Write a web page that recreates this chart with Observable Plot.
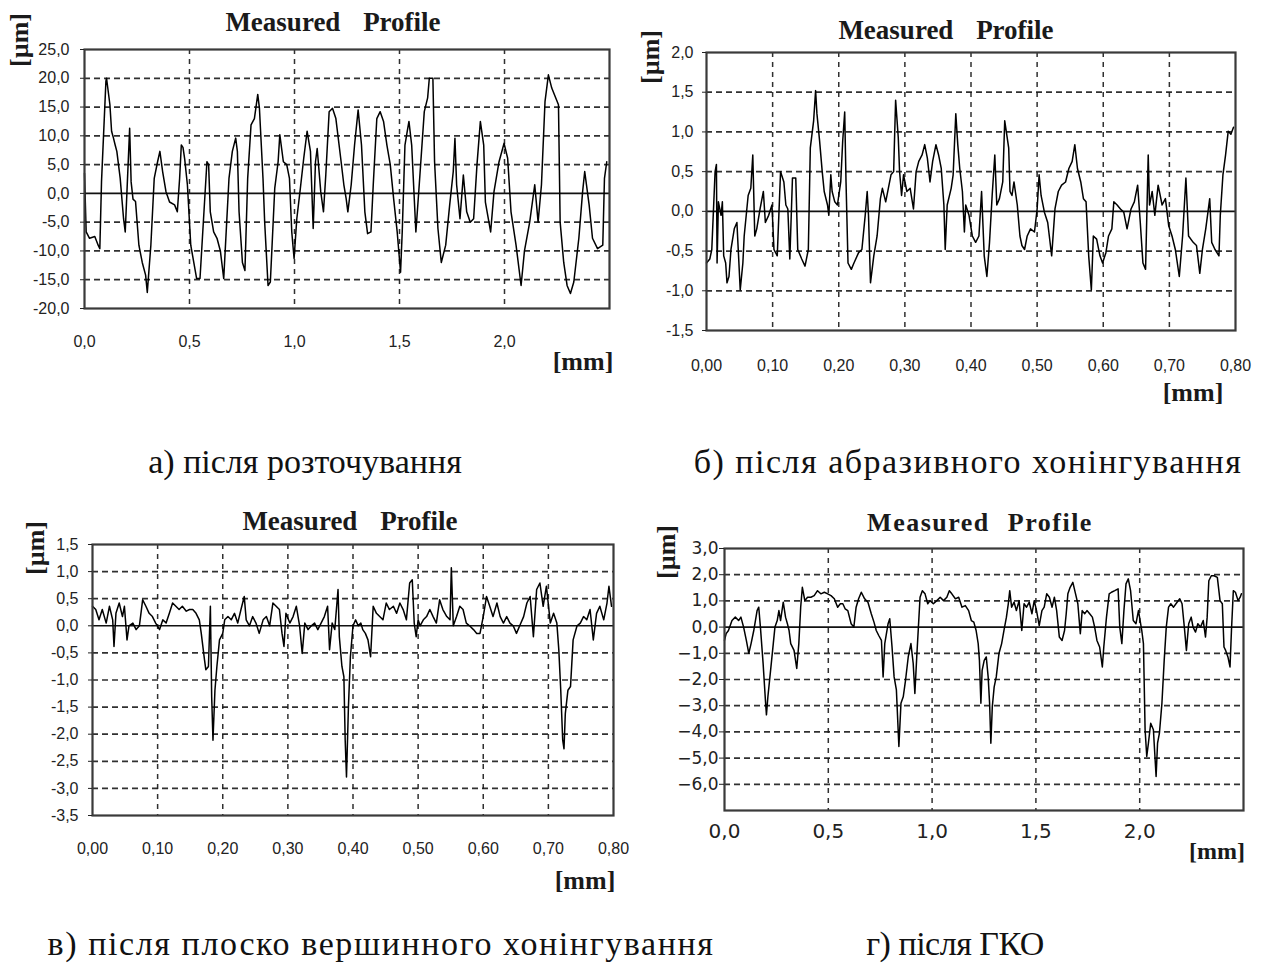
<!DOCTYPE html>
<html>
<head>
<meta charset="utf-8">
<script src="https://cdn.jsdelivr.net/npm/d3@7"></script>
<script src="https://cdn.jsdelivr.net/npm/@observablehq/plot@0.6"></script>
<style>
  body { margin: 0; background: #fff; }
  #page { position: relative; width: 1262px; height: 965px; overflow: hidden; background: #fff; }
  .t { position: absolute; white-space: nowrap; color: #1a1a1a; }
  .title { font-family: "Liberation Serif", "Times New Roman", serif; font-weight: bold; font-size: 27px; word-spacing: 16px; }
  .unit { font-family: "Liberation Serif", "Times New Roman", serif; font-weight: bold; font-size: 26px; }
  .cap { font-family: "Liberation Serif", "Times New Roman", serif; font-size: 34px; color: #111; }
</style>
</head>
<body>
<div id="page"></div>
<script>
// Measured surface profiles: [position, mm ; height, µm]

// а) after boring
const profileA = [
  [0, 3.5], [0.008, -6.7], [0.024, -7.8], [0.049, -7.5], [0.065, -9.0], [0.073, -9.6], [0.081, 2.0],
  [0.102, 19.5], [0.105, 20.0], [0.121, 15.4], [0.129, 10.8], [0.138, 9.6], [0.146, 8.4], [0.154, 7.3],
  [0.170, 2.6], [0.186, -4.4], [0.194, -6.7], [0.215, 11.3], [0.222, 2.0], [0.231, -1.0], [0.243, -1.4],
  [0.259, -9.0], [0.275, -12.0], [0.291, -14.2], [0.299, -17.2], [0.316, -9.0], [0.332, 2.6], [0.348, 5.5],
  [0.359, 7.3], [0.372, 3.8], [0.388, 0.3], [0.405, -1.5], [0.429, -2.0], [0.442, -3.2], [0.453, 2.6],
  [0.461, 8.4], [0.469, 8.0], [0.477, 6.0], [0.490, 1.5], [0.506, -9.0], [0.534, -14.8], [0.550, -14.8],
  [0.583, 5.5], [0.591, 5.0], [0.599, -3.2], [0.615, -6.7], [0.631, -7.8], [0.647, -10.0], [0.663, -14.8],
  [0.688, 2.6], [0.704, 7.3], [0.720, 9.6], [0.728, 7.3], [0.736, -3.2], [0.752, -12.0], [0.764, -13.4],
  [0.777, 2.6], [0.793, 11.9], [0.809, 13.0], [0.825, 17.2], [0.833, 14.8], [0.850, 2.6], [0.858, -5.0],
  [0.874, -16.0], [0.885, -15.4], [0.906, 0.9], [0.922, 5.5], [0.930, 10.2], [0.947, 5.5], [0.963, 5.0],
  [0.976, 2.6], [0.987, -6.7], [0.998, -11.3], [1.011, -4.4], [1.028, 0.9], [1.044, 6.1], [1.060, 10.8],
  [1.076, 7.3], [1.089, -6.1], [1.100, 5.5], [1.108, 7.8], [1.125, 0.3], [1.138, -3.2], [1.149, 3.2],
  [1.165, 14.2], [1.181, 14.8], [1.197, 13.0], [1.222, 5.5], [1.235, 1.5], [1.246, -0.9], [1.254, -3.2],
  [1.270, 1.5], [1.286, 8.4], [1.303, 14.5], [1.319, 8.4], [1.335, -3.2], [1.348, -7.0], [1.364, -6.7],
  [1.375, 1.5], [1.392, 13.0], [1.408, 14.2], [1.424, 12.5], [1.440, 8.4], [1.456, 5.0], [1.472, -0.9],
  [1.489, -6.7], [1.505, -13.7], [1.513, -6.7], [1.526, 8.4], [1.537, 10.8], [1.545, 12.5], [1.558, 8.4],
  [1.578, -6.7], [1.594, 1.5], [1.618, 14.2], [1.634, 16.6], [1.642, 20.0], [1.659, 20.0], [1.667, 5.5],
  [1.683, -6.1], [1.699, -12.0], [1.720, -9.0], [1.739, -2.0], [1.756, 3.8], [1.764, 9.6], [1.772, 1.5],
  [1.788, -4.4], [1.804, 3.2], [1.820, -3.2], [1.837, -5.0], [1.853, -4.4], [1.869, 5.0], [1.885, 12.5],
  [1.901, 8.4], [1.909, -1.5], [1.934, -6.7], [1.950, 0.3], [1.974, 5.5], [1.998, 8.7], [2.015, 6.1],
  [2.031, -3.2], [2.055, -9.0], [2.079, -16.0], [2.095, -10.0], [2.120, -5.0], [2.144, 1.5], [2.160, -5.0],
  [2.176, 1.5], [2.193, 16.0], [2.209, 20.6], [2.225, 18.3], [2.257, 15.4], [2.265, -5.0], [2.282, -12.0],
  [2.298, -16.0], [2.314, -17.4], [2.330, -15.4], [2.354, -7.8], [2.372, 0.3], [2.382, 3.8], [2.403, -2.0],
  [2.419, -7.8], [2.443, -9.6], [2.468, -9.0], [2.476, 2.6], [2.487, 5.5]
];

// б) after abrasive honing
const profileB = [
  [0.000, -0.65], [0.005, -0.60], [0.008, -0.48], [0.013, 0.50], [0.015, 0.59], [0.016, -0.65], [0.018, 0.12],
  [0.022, -0.05], [0.024, 0.12], [0.026, -0.56], [0.029, -0.65], [0.031, -0.90], [0.034, -0.82], [0.037, -0.48],
  [0.042, -0.22], [0.046, -0.14], [0.048, -0.48], [0.051, -0.99], [0.055, -0.65], [0.057, -0.31], [0.063, 0.20],
  [0.067, 0.29], [0.070, 0.71], [0.073, -0.31], [0.076, -0.22], [0.081, 0.03], [0.086, 0.25], [0.089, -0.14],
  [0.094, -0.05], [0.099, 0.08], [0.102, -0.48], [0.107, -0.56], [0.112, 0.50], [0.117, 0.37], [0.120, 0.08],
  [0.123, 0.03], [0.126, -0.60], [0.130, 0.42], [0.135, 0.42], [0.138, -0.48], [0.144, -0.60], [0.149, -0.69],
  [0.154, -0.48], [0.157, 0.80], [0.162, 1.14], [0.165, 1.52], [0.167, 1.23], [0.171, 0.89], [0.175, 0.50],
  [0.178, 0.25], [0.183, 0.08], [0.185, -0.05], [0.188, 0.46], [0.190, 0.25], [0.194, 0.12], [0.198, 0.08],
  [0.203, 0.37], [0.206, 0.89], [0.209, 1.25], [0.211, 0.37], [0.214, -0.65], [0.219, -0.73], [0.223, -0.65],
  [0.230, -0.52], [0.235, -0.48], [0.240, -0.05], [0.243, 0.25], [0.245, -0.05], [0.248, -0.90], [0.253, -0.56],
  [0.258, -0.31], [0.263, 0.16], [0.266, 0.29], [0.271, 0.12], [0.275, 0.29], [0.279, 0.46], [0.283, 0.50],
  [0.286, 1.40], [0.290, 0.93], [0.292, 0.50], [0.295, 0.20], [0.298, 0.46], [0.303, 0.25], [0.308, 0.29],
  [0.313, 0.03], [0.317, 0.50], [0.321, 0.63], [0.326, 0.71], [0.330, 0.84], [0.334, 0.67], [0.338, 0.37],
  [0.342, 0.63], [0.347, 0.84], [0.351, 0.71], [0.355, 0.54], [0.359, 0.08], [0.361, -0.48], [0.364, 0.08],
  [0.370, 0.29], [0.373, 0.46], [0.377, 1.23], [0.380, 0.84], [0.383, 0.54], [0.387, 0.25], [0.390, -0.26],
  [0.392, 0.08], [0.397, -0.05], [0.402, -0.31], [0.407, -0.39], [0.412, -0.31], [0.416, 0.25], [0.420, -0.56],
  [0.424, -0.82], [0.428, -0.39], [0.432, 0.20], [0.436, 0.71], [0.439, 0.08], [0.443, 0.16], [0.448, 0.37],
  [0.451, 1.14], [0.454, 0.97], [0.457, 0.80], [0.459, 0.25], [0.462, 0.20], [0.465, 0.37], [0.470, 0.08],
  [0.474, -0.31], [0.477, -0.43], [0.481, -0.48], [0.485, -0.31], [0.490, -0.22], [0.496, -0.26], [0.500, 0.03],
  [0.503, 0.46], [0.506, 0.20], [0.511, -0.01], [0.516, -0.14], [0.522, -0.56], [0.527, 0.03], [0.532, 0.25],
  [0.537, 0.33], [0.543, 0.37], [0.548, 0.54], [0.553, 0.63], [0.557, 0.84], [0.561, 0.54], [0.566, 0.37],
  [0.570, 0.16], [0.574, 0.12], [0.578, -0.56], [0.582, -0.99], [0.585, -0.31], [0.590, -0.35], [0.595, -0.56],
  [0.599, -0.65], [0.604, -0.52], [0.608, -0.31], [0.613, -0.22], [0.616, 0.12], [0.621, 0.08], [0.626, 0.03],
  [0.631, -0.01], [0.636, -0.22], [0.642, 0.03], [0.647, 0.12], [0.652, 0.33], [0.656, -0.14], [0.660, -0.65],
  [0.664, -0.73], [0.668, 0.71], [0.670, 0.08], [0.674, 0.25], [0.678, -0.05], [0.683, 0.33], [0.689, 0.08],
  [0.694, 0.16], [0.699, -0.18], [0.704, -0.31], [0.709, -0.48], [0.715, -0.82], [0.720, -0.31], [0.725, 0.42],
  [0.729, -0.31], [0.736, -0.39], [0.741, -0.43], [0.746, -0.78], [0.750, -0.48], [0.755, -0.22], [0.761, 0.16],
  [0.764, -0.39], [0.769, -0.48], [0.775, -0.56], [0.777, -0.05], [0.781, 0.46], [0.785, 0.71], [0.789, 1.01],
  [0.793, 0.97], [0.797, 1.06]
];

// в) after plateau honing
const profileC = [
  [0.000, 0.36], [0.005, 0.30], [0.010, 0.11], [0.015, 0.30], [0.021, 0.05], [0.026, 0.36], [0.031, 0.11],
  [0.033, -0.38], [0.036, 0.23], [0.041, 0.42], [0.046, 0.17], [0.049, 0.36], [0.053, -0.26], [0.056, 0.00],
  [0.062, 0.05], [0.067, -0.07], [0.072, 0.00], [0.077, 0.48], [0.082, 0.36], [0.087, 0.23], [0.092, 0.17],
  [0.097, 0.05], [0.103, -0.07], [0.108, 0.11], [0.113, 0.05], [0.118, 0.23], [0.123, 0.42], [0.128, 0.36],
  [0.133, 0.30], [0.138, 0.36], [0.144, 0.27], [0.149, 0.30], [0.154, 0.30], [0.159, 0.23], [0.164, 0.11],
  [0.167, -0.14], [0.172, -0.63], [0.174, -0.81], [0.178, -0.75], [0.181, 0.36], [0.183, -1.31], [0.185, -2.11],
  [0.188, -1.19], [0.191, -0.75], [0.195, -0.26], [0.200, -0.14], [0.203, 0.11], [0.208, 0.17], [0.213, 0.11],
  [0.218, 0.23], [0.223, 0.05], [0.228, 0.30], [0.233, 0.54], [0.236, 0.11], [0.241, 0.00], [0.246, 0.17],
  [0.251, 0.05], [0.256, -0.14], [0.262, 0.11], [0.267, 0.17], [0.272, 0.00], [0.277, 0.42], [0.282, 0.36],
  [0.287, 0.30], [0.291, -0.14], [0.294, -0.38], [0.297, 0.23], [0.303, 0.05], [0.308, 0.17], [0.313, 0.36],
  [0.318, 0.00], [0.322, -0.51], [0.326, 0.05], [0.331, -0.07], [0.336, 0.00], [0.341, 0.05], [0.346, -0.07],
  [0.351, 0.05], [0.356, 0.17], [0.361, 0.36], [0.364, -0.44], [0.368, 0.05], [0.372, -0.07], [0.377, 0.67],
  [0.379, -0.20], [0.383, -0.75], [0.386, -0.94], [0.388, -2.11], [0.390, -2.79], [0.393, -1.49], [0.396, -0.57],
  [0.400, 0.00], [0.404, 0.11], [0.408, 0.00], [0.412, 0.05], [0.415, -0.07], [0.419, -0.14], [0.423, -0.26],
  [0.427, -0.57], [0.431, 0.36], [0.436, 0.23], [0.441, 0.17], [0.446, 0.11], [0.451, 0.42], [0.456, 0.30],
  [0.462, 0.36], [0.467, 0.23], [0.472, 0.42], [0.477, 0.30], [0.482, 0.11], [0.487, 0.79], [0.491, 0.85],
  [0.494, 0.05], [0.497, -0.20], [0.500, 0.11], [0.503, 0.00], [0.508, 0.11], [0.513, 0.17], [0.518, 0.30],
  [0.523, 0.17], [0.528, 0.05], [0.533, 0.48], [0.538, 0.30], [0.544, 0.17], [0.549, 0.11], [0.551, 1.07],
  [0.554, 0.00], [0.559, 0.17], [0.564, 0.36], [0.569, 0.30], [0.574, 0.05], [0.579, 0.00], [0.585, -0.07],
  [0.590, -0.14], [0.595, -0.14], [0.600, 0.17], [0.605, 0.54], [0.610, 0.36], [0.615, 0.17], [0.621, 0.42],
  [0.626, 0.17], [0.631, 0.05], [0.636, 0.17], [0.641, 0.05], [0.646, 0.00], [0.651, -0.14], [0.656, 0.00],
  [0.662, 0.17], [0.667, 0.42], [0.672, 0.54], [0.677, -0.20], [0.682, 0.67], [0.687, 0.79], [0.692, 0.36],
  [0.697, 0.73], [0.703, 0.05], [0.708, 0.23], [0.713, 0.05], [0.716, -0.44], [0.719, -1.19], [0.722, -2.11],
  [0.724, -2.27], [0.726, -1.62], [0.730, -1.19], [0.734, -1.12], [0.738, -0.26], [0.744, 0.00], [0.749, 0.05],
  [0.754, 0.17], [0.759, 0.11], [0.764, 0.30], [0.769, -0.26], [0.774, 0.23], [0.779, 0.36], [0.785, 0.11],
  [0.790, 0.42], [0.793, 0.73], [0.797, 0.36]
];

// г) after HKO
const profileD = [
  [0.000, -0.50], [0.008, -0.25], [0.019, -0.13], [0.036, 0.25], [0.052, 0.38], [0.068, 0.25], [0.079, 0.38],
  [0.092, 0.00], [0.105, -0.50], [0.117, -1.00], [0.128, -0.63], [0.141, -0.13], [0.157, 0.63], [0.165, 0.76],
  [0.173, 0.00], [0.186, -1.39], [0.197, -2.78], [0.202, -3.35], [0.209, -2.66], [0.222, -1.65], [0.235, -0.63],
  [0.243, 0.00], [0.254, 0.25], [0.262, 0.63], [0.270, 0.25], [0.283, 0.95], [0.294, 0.38], [0.303, 0.13],
  [0.311, -0.13], [0.319, -0.63], [0.335, -0.89], [0.348, -1.58], [0.358, -0.63], [0.367, 0.76], [0.375, 1.52],
  [0.387, 1.01], [0.400, 1.14], [0.416, 1.14], [0.432, 1.20], [0.448, 1.39], [0.464, 1.27], [0.481, 1.33],
  [0.497, 1.27], [0.513, 1.20], [0.529, 1.08], [0.545, 0.76], [0.558, 0.89], [0.570, 0.89], [0.581, 0.70],
  [0.594, 0.63], [0.610, 0.13], [0.623, 0.00], [0.634, 0.76], [0.646, 1.08], [0.659, 1.33], [0.675, 1.08],
  [0.691, 0.95], [0.707, 0.51], [0.720, 0.19], [0.731, -0.13], [0.743, -0.32], [0.756, -0.51], [0.764, -1.90],
  [0.772, -0.63], [0.788, 0.13], [0.796, 0.32], [0.807, -0.76], [0.817, -1.90], [0.828, -2.40], [0.840, -4.56],
  [0.850, -2.91], [0.861, -2.66], [0.872, -2.03], [0.885, -1.14], [0.898, -0.63], [0.909, -1.39], [0.917, -2.53],
  [0.926, -1.14], [0.934, 0.00], [0.942, 1.14], [0.953, 1.39], [0.966, 1.27], [0.979, 0.89], [0.990, 1.01],
  [1.006, 0.89], [1.023, 1.01], [1.039, 1.14], [1.055, 1.01], [1.071, 1.14], [1.083, 1.39], [1.095, 1.27],
  [1.112, 1.08], [1.128, 1.14], [1.144, 0.76], [1.160, 0.82], [1.176, 0.63], [1.189, 0.25], [1.201, 0.19],
  [1.212, -0.13], [1.222, -0.63], [1.228, -1.27], [1.235, -2.91], [1.241, -1.65], [1.251, -1.27], [1.261, -1.14],
  [1.270, -1.90], [1.277, -2.91], [1.283, -4.43], [1.290, -3.04], [1.299, -2.28], [1.309, -1.90], [1.322, -1.01],
  [1.335, -0.63], [1.346, -0.13], [1.358, 0.38], [1.367, 0.89], [1.374, 1.39], [1.383, 0.76], [1.395, 0.95],
  [1.406, 0.63], [1.419, 1.01], [1.432, -0.13], [1.443, 0.89], [1.455, 0.76], [1.468, 0.95], [1.481, 0.51],
  [1.492, 1.01], [1.503, 0.63], [1.516, 0.06], [1.529, 0.63], [1.540, 0.76], [1.552, 1.27], [1.565, 1.14],
  [1.578, 0.76], [1.589, 1.14], [1.600, 0.63], [1.613, -0.38], [1.626, -0.51], [1.638, -0.13], [1.646, 0.51],
  [1.654, 1.27], [1.665, 1.52], [1.678, 1.71], [1.691, 1.27], [1.702, 0.89], [1.714, -0.25], [1.723, 0.63],
  [1.735, 0.51], [1.746, 0.63], [1.759, 0.51], [1.772, 0.38], [1.783, 0.00], [1.794, -0.51], [1.807, -0.76],
  [1.820, -1.52], [1.827, -0.76], [1.840, 0.38], [1.853, 1.27], [1.864, 1.33], [1.880, 1.39], [1.896, 1.46],
  [1.904, 0.00], [1.914, -0.63], [1.924, 0.63], [1.934, 1.65], [1.945, 1.84], [1.956, 1.39], [1.969, 0.25],
  [1.982, 0.13], [1.994, 0.63], [2.002, 0.25], [2.010, -0.13], [2.018, -0.63], [2.026, -3.92], [2.034, -4.94],
  [2.042, -4.43], [2.053, -3.67], [2.066, -3.92], [2.079, -5.70], [2.086, -4.43], [2.095, -4.05], [2.107, -2.91],
  [2.118, -1.27], [2.128, 0.00], [2.139, 0.76], [2.150, 0.89], [2.163, 0.76], [2.180, 0.95], [2.193, 1.08],
  [2.204, 0.89], [2.215, 0.00], [2.225, -0.89], [2.236, 0.13], [2.248, 0.38], [2.257, 0.00], [2.269, -0.19],
  [2.280, 0.13], [2.293, 0.00], [2.306, 0.25], [2.317, -0.38], [2.325, 0.38], [2.333, 1.77], [2.345, 1.96],
  [2.358, 1.96], [2.374, 1.90], [2.387, 1.01], [2.398, 0.89], [2.406, -0.76], [2.414, -0.89], [2.425, -1.14],
  [2.435, -1.52], [2.442, -0.13], [2.451, 1.39], [2.461, 1.33], [2.474, 1.01], [2.484, 1.14], [2.490, 1.27]
];

// Axis ticks
const yTicksA = [25, 20, 15, 10, 5, 0, -5, -10, -15, -20];
const xTicksA = [0, 0.5, 1.0, 1.5, 2.0];
const yTicksB = [2.0, 1.5, 1.0, 0.5, 0, -0.5, -1.0, -1.5];
const xTicksB = [0, 0.1, 0.2, 0.3, 0.4, 0.5, 0.6, 0.7, 0.8];
const yTicksC = [1.5, 1.0, 0.5, 0, -0.5, -1.0, -1.5, -2.0, -2.5, -3.0, -3.5];
const xTicksC = [0, 0.1, 0.2, 0.3, 0.4, 0.5, 0.6, 0.7, 0.8];
const yTicksD = [3, 2, 1, 0, -1, -2, -3, -4, -5, -6];
const xTicksD = [0, 0.5, 1.0, 1.5, 2.0];

const titleText = "Measured Profile";
const yUnit = "[µm]";
const xUnit = "[mm]";
const captions = [
  "а) після розточування",
  "б) після абразивного хонінгування",
  "в) після плоско вершинного хонінгування",
  "г) після ГКО"
];

const comma = (digits, minus = "-") => d =>
  (d < 0 ? minus : "") + Math.abs(d).toFixed(digits).replace(".", ",");

const page = document.getElementById("page");

function profilePanel(cfg) {
  const inner = (ticks, lo, hi) => ticks.filter(t => t > lo && t < hi && t !== 0);
  const [x0, x1] = cfg.xDomain, [y0, y1] = cfg.yDomain;
  const gridStyle = {stroke: "#1a1a1a", strokeOpacity: 0.9, strokeWidth: 1.7, strokeDasharray: "6,4"};
  const svg = Plot.plot({
    width: cfg.width, height: cfg.height,
    marginLeft: cfg.ml, marginRight: cfg.mr, marginTop: cfg.mt, marginBottom: cfg.mb,
    x: {domain: cfg.xDomain, axis: null},
    y: {domain: cfg.yDomain, axis: null},
    style: {background: "transparent", fontFamily: cfg.font, color: "#222", overflow: "visible"},
    marks: [
      Plot.gridY(inner(cfg.yTicks, y0, y1), gridStyle),
      Plot.gridX(inner(cfg.xTicks, x0, x1), {...gridStyle, strokeWidth: 1.5, strokeDasharray: "5,5"}),
      Plot.ruleY([0], {stroke: "#111", strokeWidth: 1.6}),
      Plot.line(cfg.data, {x: d => d[0], y: d => d[1], stroke: "#000", strokeWidth: 1.5}),
      Plot.frame({stroke: "#3a3a3a", strokeWidth: 2.2}),
      Plot.axisY(cfg.yTicks, {tickSize: cfg.yTickSize, tickPadding: cfg.yPad, tickFormat: cfg.yFormat,
        fontSize: cfg.yFont, stroke: "#222", fill: "#222"}),
      Plot.axisX(cfg.xTicks, {tickSize: 0, tickPadding: cfg.xPad, tickFormat: cfg.xFormat,
        fontSize: cfg.xFont, fill: "#222"})
    ]
  });
  const wrap = document.createElement("div");
  wrap.style.cssText = `position:absolute;left:${cfg.left}px;top:${cfg.top}px;width:${cfg.width}px;height:${cfg.height}px`;
  wrap.appendChild(svg);
  page.appendChild(wrap);
}

function addText(text, cls, x, y, extra = "", rotate = false) {
  const d = document.createElement("div");
  d.className = "t " + cls;
  d.textContent = text;
  d.style.left = x + "px";
  d.style.top = y + "px";
  d.style.transform = "translate(-50%,-50%)" + (rotate ? " rotate(-90deg)" : "");
  if (extra) d.style.cssText += extra;
  page.appendChild(d);
}

const narrow = "'Liberation Sans Narrow','Liberation Sans',Arial,sans-serif";

profilePanel({data: profileA, xDomain: [0, 2.5], yDomain: [-20, 25], yTicks: yTicksA, xTicks: xTicksA,
  yFormat: comma(1), xFormat: comma(1), left: 0, top: 0, width: 630, height: 400,
  ml: 84, mr: 21, mt: 49, mb: 92, font: narrow, yFont: 16, xFont: 16, yTickSize: 4, yPad: 11, xPad: 27});

profilePanel({data: profileB, xDomain: [0, 0.8], yDomain: [-1.5, 2.0], yTicks: yTicksB, xTicks: xTicksB,
  yFormat: comma(1), xFormat: comma(2), left: 630, top: 0, width: 632, height: 420,
  ml: 76, mr: 27, mt: 52, mb: 90, font: narrow, yFont: 16, xFont: 16, yTickSize: 4, yPad: 9, xPad: 29});

profilePanel({data: profileC, xDomain: [0, 0.8], yDomain: [-3.5, 1.5], yTicks: yTicksC, xTicks: xTicksC,
  yFormat: comma(1), xFormat: comma(2), left: 0, top: 490, width: 630, height: 410,
  ml: 92, mr: 17, mt: 54, mb: 85, font: narrow, yFont: 16, xFont: 16, yTickSize: 4, yPad: 10, xPad: 27});

profilePanel({data: profileD, xDomain: [0, 2.5], yDomain: [-7, 3], yTicks: yTicksD, xTicks: xTicksD,
  yFormat: comma(1, "−"), xFormat: comma(1), left: 640, top: 490, width: 622, height: 400,
  ml: 84, mr: 19, mt: 58, mb: 80, font: "'DejaVu Sans',Verdana,sans-serif", yFont: 17, xFont: 20,
  yTickSize: 5, yPad: 1, xPad: 13});

// Titles
addText(titleText, "title", 333, 22);
addText(titleText, "title", 946, 30);
addText(titleText, "title", 350, 521);
addText(titleText, "title", 980, 523, "font-size:26px;letter-spacing:1.5px;word-spacing:10px;");

// Units
addText(yUnit, "unit", 20, 40, "", true);
addText(yUnit, "unit", 651, 57, "", true);
addText(yUnit, "unit", 36, 548, "", true);
addText(yUnit, "unit", 667, 552, "", true);
addText(xUnit, "unit", 583, 362);
addText(xUnit, "unit", 1193, 393);
addText(xUnit, "unit", 585, 881);
addText(xUnit, "unit", 1217, 851, "font-size:24px;");

// Captions
addText(captions[0], "cap", 305, 462);
addText(captions[1], "cap", 968, 462, "letter-spacing:1.5px;");
addText(captions[2], "cap", 381, 944, "letter-spacing:1.6px;");
addText(captions[3], "cap", 955, 944, "letter-spacing:-0.5px;");
</script>
</body>
</html>
